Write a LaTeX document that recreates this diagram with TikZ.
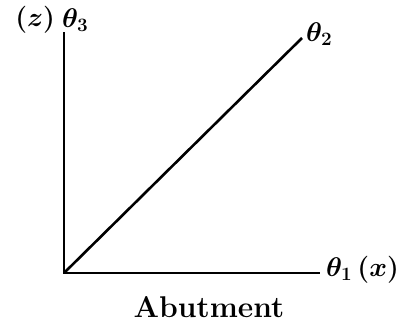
\documentclass[tikz,border=0pt]{standalone}
\usepackage{fix-cm}
\usepackage{amsmath}
\usetikzlibrary{positioning}
\tikzset{axlab/.style={inner sep=0pt,outer sep=0pt,font=\fontsize{27}{30}\selectfont\boldmath}}

\begin{document}
\begin{tikzpicture}[x=1pt,y=-1pt,line width=2.6pt]
\useasboundingbox (0,0) rectangle (401,324);
\coordinate (orig) at (64,273);
\coordinate (axZ) at (64,32);
\coordinate (axX) at (320,273);
\coordinate (axD) at (302,38);
\draw (axZ) -- (orig) -- (axX);
\draw (orig) -- (axD);
\node[axlab,anchor=west] (labX) at (326,270) {$\theta_1\,(x)$};
\node[axlab,anchor=west] (labD) at (306,34) {$\theta_2$};
\node[axlab,anchor=west] (labZ) at (62,20) {$\theta_3$};
\node[axlab,left=7pt of labZ] (labZZ) {$(z)$};
\node[inner sep=0pt,font=\fontsize{30}{33}\selectfont\bfseries] (abut) at (209,307) {Abutment};
\end{tikzpicture}
\end{document}
